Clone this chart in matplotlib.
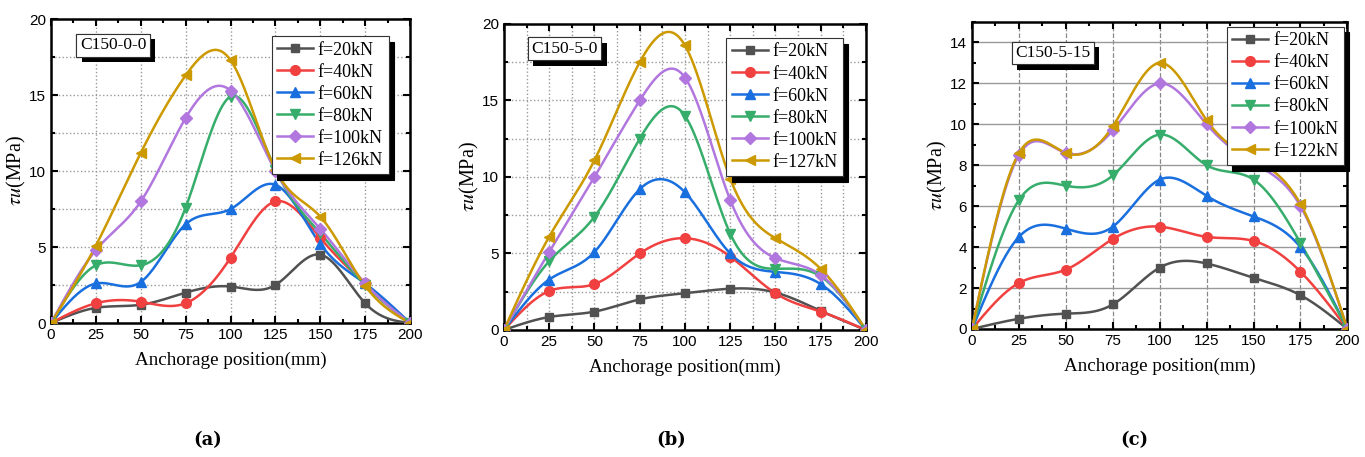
import numpy as np
import matplotlib
matplotlib.use('Agg')
import matplotlib.pyplot as plt
import matplotlib.patheffects as pe
from matplotlib.ticker import MultipleLocator

plt.rcParams['mathtext.fontset'] = 'stix'

# 데이터
pos = [0, 25, 50, 75, 100, 125, 150, 175, 200]

a_f20 = [0, 1.0, 1.2, 2.0, 2.4, 2.5, 4.5, 1.3, 0]
a_f40 = [0, 1.3, 1.4, 1.3, 4.3, 8.0, 5.6, 2.6, 0]
a_f60 = [0, 2.6, 2.7, 6.5, 7.5, 9.1, 5.2, 2.6, 0]
a_f80 = [0, 3.8, 3.8, 7.6, 14.9, 10.1, 5.9, 2.5, 0]
a_f100 = [0, 4.8, 8.0, 13.5, 15.3, 10.0, 6.2, 2.6, 0]
a_f126 = [0, 5.1, 11.2, 16.3, 17.3, 10.1, 7.0, 2.45, 0]

b_f20 = [0, 0.85, 1.2, 2.0, 2.4, 2.7, 2.45, 1.25, 0]
b_f40 = [0, 2.55, 3.0, 5.0, 6.0, 4.8, 2.4, 1.2, 0]
b_f60 = [0, 3.3, 5.1, 9.2, 9.0, 5.0, 3.8, 3.0, 0]
b_f80 = [0, 4.5, 7.4, 12.5, 14.0, 6.3, 4.0, 3.5, 0]
b_f100 = [0, 5.1, 10.0, 15.0, 16.5, 8.5, 4.7, 3.6, 0]
b_f127 = [0, 6.1, 11.1, 17.5, 18.6, 9.9, 6.0, 4.0, 0]

c_f20 = [0, 0.5, 0.75, 1.2, 3.0, 3.2, 2.5, 1.65, 0]
c_f40 = [0, 2.25, 2.9, 4.4, 5.0, 4.5, 4.3, 2.8, 0]
c_f60 = [0, 4.5, 4.9, 5.0, 7.3, 6.5, 5.5, 4.0, 0]
c_f80 = [0, 6.3, 7.0, 7.5, 9.5, 8.0, 7.3, 4.2, 0]
c_f100 = [0, 8.5, 8.6, 9.7, 12.0, 10.0, 8.1, 6.0, 0]
c_f122 = [0, 8.6, 8.6, 9.9, 13.0, 10.2, 8.3, 6.1, 0]

labels_a = ['f=20kN', 'f=40kN', 'f=60kN', 'f=80kN', 'f=100kN', 'f=126kN']
labels_b = ['f=20kN', 'f=40kN', 'f=60kN', 'f=80kN', 'f=100kN', 'f=127kN']
labels_c = ['f=20kN', 'f=40kN', 'f=60kN', 'f=80kN', 'f=100kN', 'f=122kN']

colors = ['#515151', '#F14040', '#1A6FDF', '#37AD6B', '#B177DE', '#CC9900']
markers = ['s', 'o', '^', 'v', 'D', '<']
msizes = [6, 7, 7, 7, 6, 7]


# natural cubic spline (scipy 없이)
def spline(x, y, n=300):
    x = np.asarray(x, float)
    y = np.asarray(y, float)
    k = len(x)
    h = np.diff(x)
    A = np.zeros((k, k))
    r = np.zeros(k)
    A[0, 0] = 1
    A[-1, -1] = 1
    for i in range(1, k - 1):
        A[i, i - 1] = h[i - 1]
        A[i, i] = 2 * (h[i - 1] + h[i])
        A[i, i + 1] = h[i]
        r[i] = 6 * ((y[i + 1] - y[i]) / h[i] - (y[i] - y[i - 1]) / h[i - 1])
    M = np.linalg.solve(A, r)
    xs = np.linspace(x[0], x[-1], n)
    idx = np.clip(np.searchsorted(x, xs) - 1, 0, k - 2)
    x0, x1 = x[idx], x[idx + 1]
    hh = x1 - x0
    t0 = x1 - xs
    t1 = xs - x0
    ys = (M[idx] * t0 ** 3 + M[idx + 1] * t1 ** 3) / (6 * hh) \
        + (y[idx] / hh - M[idx] * hh / 6) * t0 \
        + (y[idx + 1] / hh - M[idx + 1] * hh / 6) * t1
    return xs, ys


def draw(ax, series, labels, name, ylim, ymaj, ymin, name_xy, leg_xy, style):
    for s, lab, c, m, ms in zip(series, labels, colors, markers, msizes):
        xs, ys = spline(pos, s)
        ax.plot(xs, ys, color=c, lw=1.8, zorder=3)
        ax.plot(pos, s, ls='none', marker=m, color=c, ms=ms, zorder=4)
        ax.plot([], [], color=c, lw=1.8, marker=m, ms=ms, label=lab)

    ax.set_xlim(0, 200)
    ax.set_ylim(*ylim)
    ax.xaxis.set_major_locator(MultipleLocator(25))
    ax.xaxis.set_minor_locator(MultipleLocator(12.5))
    ax.yaxis.set_major_locator(MultipleLocator(ymaj))
    ax.yaxis.set_minor_locator(MultipleLocator(ymin))
    ax.tick_params(which='both', direction='in', top=True, right=True,
                   width=1.5, labelsize=11)
    ax.tick_params(which='major', length=5)
    ax.tick_params(which='minor', length=3)
    for t in ax.get_xticklabels() + ax.get_yticklabels():
        t.set_fontfamily('Liberation Sans')
    for sp in ax.spines.values():
        sp.set_linewidth(1.8)

    if style == 'a':
        ax.grid(True, which='major', axis='x', ls=':', color='#999999', lw=1)
        ax.grid(True, which='both', axis='y', ls=':', color='#999999', lw=1)
    elif style == 'b':
        ax.grid(True, which='both', ls=':', color='#999999', lw=1)
    else:
        ax.grid(True, which='major', axis='x', ls='--', color='#888888', lw=0.9)
        ax.grid(True, which='major', axis='y', ls='-', color='#999999', lw=1)
    ax.set_axisbelow(True)

    ax.set_xlabel('Anchorage position(mm)', fontfamily='Liberation Serif',
                  fontsize=13.7, labelpad=7)
    ax.set_ylabel(r'$\mathit{\tau u}$(MPa)', fontfamily='Liberation Serif',
                  fontsize=14.5, labelpad=1)

    txt = ax.text(name_xy[0], name_xy[1], name, transform=ax.transAxes,
                  fontfamily='Liberation Serif', fontsize=12.5, ha='left', va='top',
                  zorder=6,
                  bbox=dict(boxstyle='square,pad=0.2', fc='white', ec='#333333', lw=0.8))
    txt.get_bbox_patch().set_path_effects([
        pe.withSimplePatchShadow(offset=(4, -4), shadow_rgbFace='black', alpha=1),
        pe.Normal()])

    leg = ax.legend(loc='upper right', bbox_to_anchor=leg_xy, fancybox=False,
                    shadow={'color': 'black', 'alpha': 1, 'ox': 4, 'oy': -4},
                    framealpha=1, edgecolor='#333333', handlelength=2.0,
                    handletextpad=0.25, labelspacing=0.28, borderpad=0.3,
                    borderaxespad=0, prop={'family': 'Liberation Serif', 'size': 13})
    leg.get_frame().set_linewidth(0.8)
    leg.set_zorder(7)


fig = plt.figure(figsize=(13.65, 4.57), dpi=100)
ax1 = fig.add_axes([0.0374, 0.2932, 0.263, 0.665])
ax2 = fig.add_axes([0.3692, 0.2779, 0.2652, 0.6696])
ax3 = fig.add_axes([0.7121, 0.2801, 0.2750, 0.6718])

draw(ax1, [a_f20, a_f40, a_f60, a_f80, a_f100, a_f126], labels_a, 'C150-0-0',
     (0, 20), 5, 2.5, (0.08, 0.94), (0.94, 0.944), 'a')
draw(ax2, [b_f20, b_f40, b_f60, b_f80, b_f100, b_f127], labels_b, 'C150-5-0',
     (0, 20), 5, 2.5, (0.075, 0.945), (0.936, 0.954), 'b')
draw(ax3, [c_f20, c_f40, c_f60, c_f80, c_f100, c_f122], labels_c, 'C150-5-15',
     (0, 15), 2, 1, (0.115, 0.925), (0.99, 0.984), 'c')

for xc, lab in [(0.152, '(a)'), (0.492, '(b)'), (0.831, '(c)')]:
    fig.text(xc, 0.037, lab, ha='center', va='center', fontsize=13,
             fontfamily='DejaVu Serif', fontweight='bold')

fig.savefig('out.png', dpi=100)
